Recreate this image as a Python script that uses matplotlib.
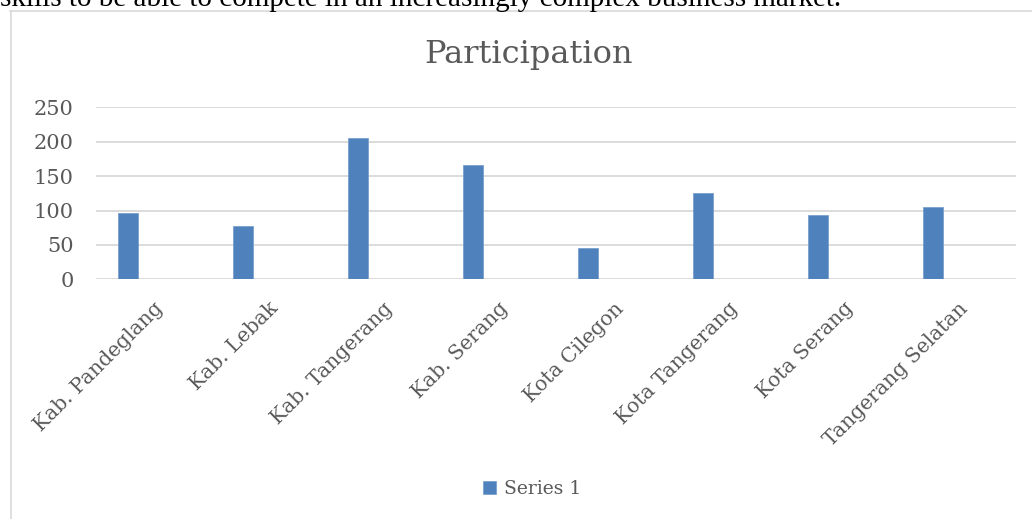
import matplotlib
matplotlib.use("Agg")
import matplotlib.pyplot as plt
from matplotlib.lines import Line2D
import numpy as np

# data
regions = ["Kab. Pandeglang", "Kab. Lebak", "Kab. Tangerang", "Kab. Serang",
           "Kota Cilegon", "Kota Tangerang", "Kota Serang", "Tangerang Selatan"]
participation = [97, 77, 206, 166, 45, 125, 94, 105]
y_ticks = [0, 50, 100, 150, 200, 250]

bar_color = "#4F81BD"
text_color = "#595959"
grid_color = "#D9D9D9"
font = "DejaVu Serif"

fig = plt.figure(figsize=(10.32, 5.19), dpi=100)
ax = fig.add_axes([96 / 1032, 1 - 279.3 / 519, 920 / 1032, 172 / 519])

x = np.arange(len(regions))
bars = ax.bar(x - 0.22, participation, width=0.175, color=bar_color,
              edgecolor="#7BA0CD", linewidth=0.6, label="Series 1", zorder=3)

ax.set_xlim(-0.5, len(regions) - 0.5)
ax.set_ylim(0, 250)
ax.set_yticks(y_ticks)
ax.set_yticklabels([str(v) for v in y_ticks], fontsize=15, family=font, color=text_color)
ax.set_xticks(x)
ax.set_xticklabels(regions, rotation=45, ha="right", rotation_mode="anchor",
                   fontsize=14.6, family=font, color=text_color)
ax.tick_params(axis="both", length=0)
ax.tick_params(axis="y", pad=16)
ax.tick_params(axis="x", pad=14)
ax.grid(axis="y", color=grid_color, linewidth=1.3, zorder=0)
for s in ax.spines.values():
    s.set_visible(False)

fig.text(528 / 1032, 1 - 54 / 519, "Participation", ha="center", va="center",
         fontsize=23, family=font, color=text_color)

fig.legend(handles=[bars], labels=["Series 1"], loc="center",
           bbox_to_anchor=(532 / 1032, 1 - 489 / 519), frameon=False,
           prop={"family": font, "size": 13.5}, labelcolor=text_color,
           handlelength=0.7, handleheight=0.7, handletextpad=0.4)

# surrounding text of the page and the chart frame
fig.text(0, 1 - 6 / 519,
         "skills to be able to compete in an increasingly complex business market.",
         ha="left", va="baseline", fontsize=21, family="Liberation Serif", color="black")
fig.add_artist(Line2D([10 / 1032, 1], [1 - 11 / 519, 1 - 11 / 519],
                      color=grid_color, linewidth=1.2, transform=fig.transFigure))
fig.add_artist(Line2D([10.5 / 1032, 10.5 / 1032], [0, 1 - 11 / 519],
                      color=grid_color, linewidth=1.2, transform=fig.transFigure))

fig.savefig("out.png", dpi=100)
